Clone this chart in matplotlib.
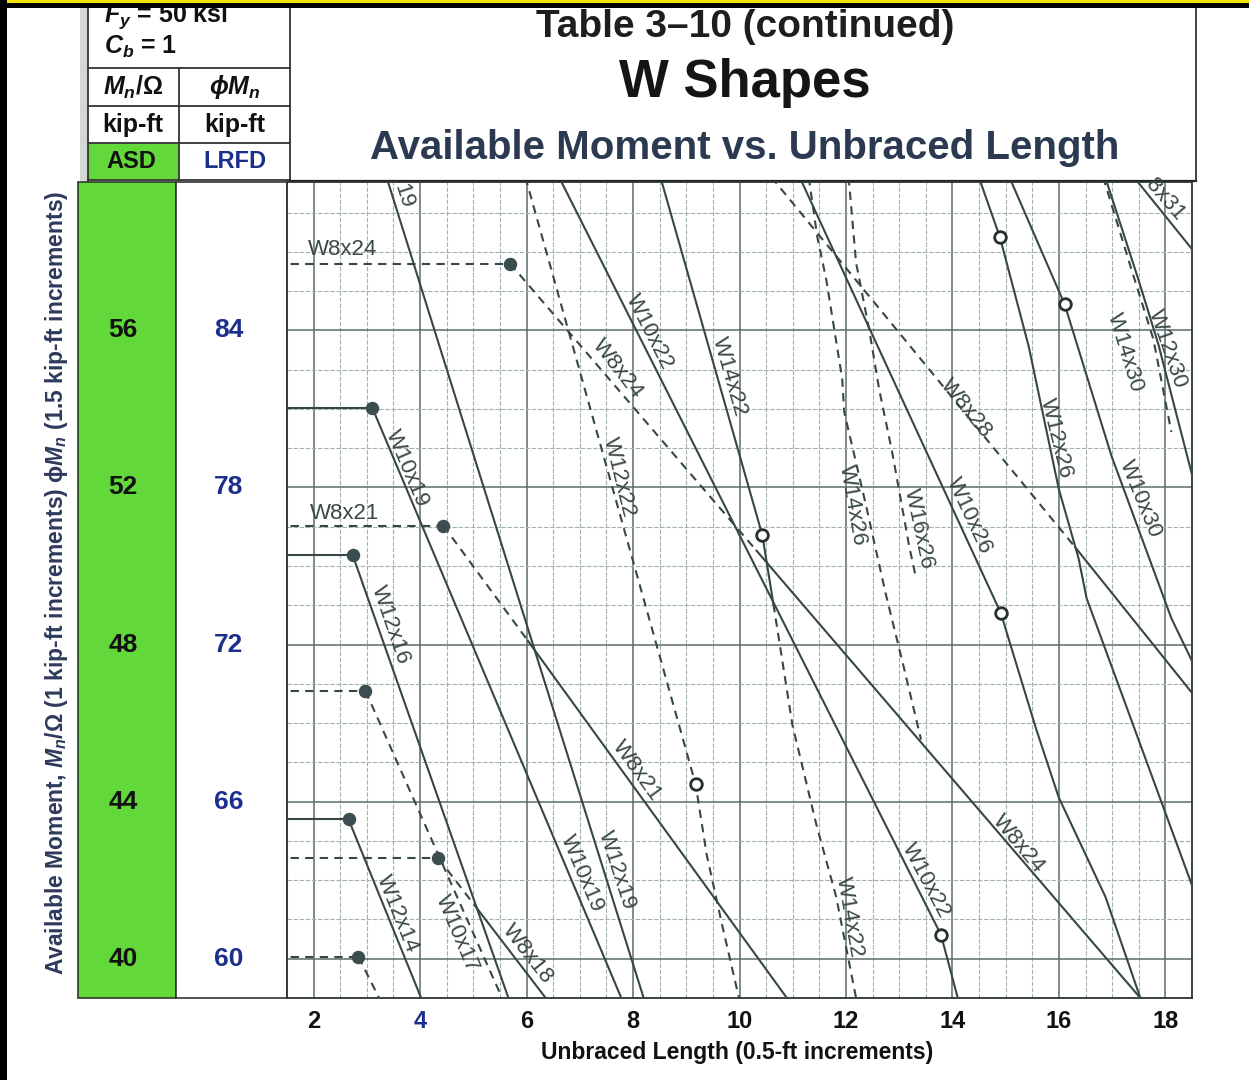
import numpy as np
import matplotlib.pyplot as plt
import matplotlib.transforms as mtransforms
from matplotlib import font_manager
from matplotlib.patches import Rectangle

# fonts
installed = {f.name for f in font_manager.fontManager.ttflist}
COND = 'Liberation Sans Narrow' if 'Liberation Sans Narrow' in installed else 'Liberation Sans'
SANS = 'Liberation Sans'
plt.rcParams['font.family'] = [SANS, 'DejaVu Sans']
plt.rcParams['mathtext.fontset'] = 'custom'
plt.rcParams['mathtext.rm'] = 'Liberation Sans:bold'
plt.rcParams['mathtext.it'] = 'Liberation Sans:italic:bold'
plt.rcParams['mathtext.bf'] = 'Liberation Sans:bold'

# --- data: ASD available moment (kip-ft) vs unbraced length (ft) ---
# plastic plateaus, end at Lp (filled dot)
plateau_M = [57.7, 54.02, 51.03, 50.29, 46.82, 43.55, 42.56, 40.05]
plateau_Lp = [5.69, 3.105, 4.436, 2.731, 2.974, 2.656, 4.342, 2.843]
plateau_dashed = [True, False, True, False, True, False, True, True]

# Lr points (open circles)
circ_x = [10.43, 9.176, 13.785, 14.909, 14.89, 16.108]
circ_y = [50.78, 44.44, 40.61, 48.80, 58.38, 56.66]

# descending branches (solid = lightest, dashed = not lightest)
w12x14_x = [2.656, 4.02];  w12x14_y = [43.55, 39.0]
w10x15_x = [2.843, 3.23];  w10x15_y = [40.05, 39.0]
w10x17_x = [2.974, 5.54];  w10x17_y = [46.82, 39.0]
w12x16_x = [2.731, 5.66];  w12x16_y = [50.29, 39.0]
w8x18a_x = [4.342, 5.07];  w8x18a_y = [42.56, 41.28]
w8x18b_x = [5.07, 6.36];   w8x18b_y = [41.28, 39.0]
w10x19_x = [3.105, 7.78];  w10x19_y = [54.02, 39.0]
w12x19_x = [3.37, 8.20];   w12x19_y = [59.9, 39.0]
w8x21a_x = [4.436, 6.028]; w8x21a_y = [51.03, 48.09]
w8x21b_x = [6.028, 10.89]; w8x21b_y = [48.09, 39.0]
w8x24a_x = [5.69, 10.32];  w8x24a_y = [57.7, 50.39]
w8x24b_x = [10.32, 17.53]; w8x24b_y = [50.39, 39.0]
w10x22_x = [6.61, 13.785, 14.10]; w10x22_y = [59.9, 40.61, 39.0]
w14x22a_x = [8.515, 10.43, 10.637]; w14x22a_y = [59.9, 50.78, 49.03]
w14x22b_x = [10.637, 10.993, 11.443, 11.817, 12.19]
w14x22b_y = [49.03, 45.96, 43.42, 41.57, 39.0]
w12x22_x = [5.978, 9.176, 9.382, 9.682, 9.99]
w12x22_y = [59.9, 44.44, 42.66, 40.81, 39.0]
w14x26_x = [11.30, 11.461, 11.63, 11.93, 11.967, 12.36, 12.754, 13.09, 13.41]
w14x26_y = [59.9, 58.38, 57.29, 54.76, 53.92, 51.64, 49.25, 47.40, 45.58]
w16x26_x = [12.05, 12.19, 12.436, 12.623, 12.866, 13.185, 13.316]
w16x26_y = [59.9, 57.72, 56.02, 54.50, 52.91, 50.52, 49.69]
w10x26_x = [11.13, 14.909, 15.565, 15.996, 16.876, 17.53]
w10x26_y = [59.9, 48.80, 45.88, 44.11, 41.57, 39.0]
w8x28a_x = [10.60, 16.31]; w8x28a_y = [59.9, 50.47]
w8x28b_x = [16.31, 18.6];  w8x28b_y = [50.47, 46.6]
w12x26_x = [14.495, 14.89, 15.433, 15.996, 16.37, 16.52, 18.6]
w12x26_y = [59.9, 58.38, 55.59, 51.97, 50.19, 49.18, 41.5]
w10x30_x = [15.07, 16.108, 16.988, 18.112, 18.6]
w10x30_y = [59.9, 56.66, 52.80, 48.67, 47.3]
w12x30_x = [16.87, 17.494, 17.869, 18.6]
w12x30_y = [59.9, 57.29, 55.64, 51.8]
w14x30_x = [16.83, 17.363, 17.775, 18.112]
w14x30_y = [59.9, 57.55, 55.77, 53.41]
w8x31_x = [17.41, 18.6];   w8x31_y = [59.9, 57.9]

solid_curves = [(w12x14_x, w12x14_y), (w12x16_x, w12x16_y), (w8x18b_x, w8x18b_y),
                (w10x19_x, w10x19_y), (w12x19_x, w12x19_y), (w8x21b_x, w8x21b_y),
                (w8x24b_x, w8x24b_y), (w10x22_x, w10x22_y), (w14x22a_x, w14x22a_y),
                (w10x26_x, w10x26_y), (w8x28b_x, w8x28b_y), (w12x26_x, w12x26_y),
                (w10x30_x, w10x30_y), (w12x30_x, w12x30_y), (w8x31_x, w8x31_y)]
dashed_curves = [(w10x15_x, w10x15_y), (w10x17_x, w10x17_y), (w8x18a_x, w8x18a_y),
                 (w8x21a_x, w8x21a_y), (w8x24a_x, w8x24a_y), (w14x22b_x, w14x22b_y),
                 (w12x22_x, w12x22_y), (w14x26_x, w14x26_y), (w16x26_x, w16x26_y),
                 (w8x28a_x, w8x28a_y), (w14x30_x, w14x30_y)]

# curve labels: text, Lb, M, angle
curve_labels = [
    ("W8x24", 2.544, 58.06, 0), ("W8x21", 2.581, 51.33, 0),
    ("19", 3.686, 59.42, -72), ("W10x19", 3.761, 52.47, -67),
    ("W12x16", 3.443, 48.49, -71), ("W8x24", 7.70, 55.01, -52),
    ("W10x22", 8.314, 55.95, -63), ("W14x22", 9.813, 54.83, -74),
    ("W12x22", 7.733, 52.27, -76), ("W8x28", 14.253, 54.0, -51),
    ("W14x26", 12.117, 51.54, -80), ("W16x26", 13.372, 50.95, -78),
    ("W10x26", 14.31, 51.28, -65), ("W12x26", 15.939, 53.24, -76),
    ("W14x30", 17.24, 55.44, -73), ("W12x30", 18.03, 55.52, -71),
    ("8x31", 18.0, 59.32, -49), ("W10x30", 17.53, 51.71, -68),
    ("W8x21", 8.07, 44.79, -54), ("W12x19", 7.696, 42.26, -72),
    ("W10x19", 7.04, 42.16, -67), ("W8x18", 6.028, 40.13, -52),
    ("W10x17", 4.698, 40.63, -67), ("W12x14", 3.574, 41.14, -68),
    ("W10x22", 13.5, 42.0, -62), ("W8x24", 15.246, 42.92, -50),
    ("W14x22", 12.061, 41.06, -80),
]

x_ticks = list(range(2, 19, 2))
asd_ticks = [40, 44, 48, 52, 56]
lrfd_ticks = [int(v * 1.5) for v in asd_ticks]

LINE = '#374646'
GREEN = '#63d83a'
NAVY = '#1b2f8c'

fig = plt.figure(figsize=(12.49, 10.80), dpi=100)
bg = fig.add_axes([0, 0, 1, 1], zorder=0)
bg.set_xlim(0, 1249)
bg.set_ylim(1080, 0)
bg.axis('off')

ax = fig.add_axes([287 / 1249, 1 - 998 / 1080, 905 / 1249, 816 / 1080], zorder=1)
ax.set_xlim(1.513, 18.468)
ax.set_ylim(39.087, 59.777)

# grid
ax.set_xticks(x_ticks)
ax.set_xticks(np.arange(1.5, 18.51, 0.5), minor=True)
ax.set_yticks(asd_ticks)
ax.set_yticks(np.arange(39, 60, 1), minor=True)
ax.grid(which='major', color='#5d6b6b', lw=1.1)
ax.grid(which='minor', color='#a3b0b0', lw=0.8, ls=(0, (4, 1.5)))
ax.set_axisbelow(True)
ax.tick_params(which='both', length=0)
ax.tick_params(axis='x', pad=9)
ax.set_yticklabels([])
ax.set_xticklabels([str(v) for v in x_ticks], fontfamily=COND, fontweight='bold', fontsize=17)
for t in ax.get_xticklabels():
    t.set_color(NAVY if t.get_text() == '4' else '#111111')
for s in ax.spines.values():
    s.set_color('#2b3333')
    s.set_linewidth(1.3)

# plateaus
for M, Lp, d in zip(plateau_M, plateau_Lp, plateau_dashed):
    ax.plot([1.3, Lp], [M, M], color=LINE, lw=1.5,
            ls=(0, (4, 3)) if d else '-', zorder=3)
for x, y in solid_curves:
    ax.plot(x, y, color=LINE, lw=1.5, zorder=3)
for x, y in dashed_curves:
    ax.plot(x, y, color=LINE, lw=1.5, ls=(0, (4, 3)), zorder=3)

ax.scatter(plateau_Lp, plateau_M, s=75, color='#3c4d50', zorder=5)
ax.scatter(circ_x, circ_y, s=70, facecolor='white', edgecolor='#263030',
           linewidths=2, zorder=5)

for txt, x, y, r in curve_labels:
    ax.text(x, y, txt, rotation=r, rotation_mode='anchor', ha='center', va='center',
            fontsize=16, color='#3a4848', family=SANS, zorder=4)

# left value columns
bg.add_patch(Rectangle((78, 182), 98, 816, fc=GREEN, ec='#2a3a2a', lw=1.2))
bg.add_patch(Rectangle((176, 182), 111, 816, fc='white', ec='#333333', lw=1.2))
mix = mtransforms.blended_transform_factory(bg.transData, ax.transData)
for a, l in zip(asd_ticks, lrfd_ticks):
    bg.text(123, a, str(a), transform=mix, ha='center', va='center',
            fontfamily=COND, fontweight='bold', fontsize=19, color='#111111')
    bg.text(229, a, str(l), transform=mix, ha='center', va='center',
            fontfamily=COND, fontweight='bold', fontsize=19, color=NAVY)

# header table
bg.add_patch(Rectangle((80, 0), 8, 181, fc='#d3d8d4', ec='none'))
bg.add_patch(Rectangle((88, 143), 91, 37, fc=GREEN, ec='none'))
for yy in [68, 106, 143, 180]:
    bg.plot([88, 290], [yy, yy], color='#333333', lw=1.3)
bg.plot([88, 88], [0, 181], color='#333333', lw=1.3)
bg.plot([290, 290], [0, 182], color='#333333', lw=1.3)
bg.plot([179, 179], [68, 180], color='#333333', lw=1.3)
bg.plot([290, 1196], [181, 181], color='#222222', lw=1.6)
bg.plot([1196, 1196], [0, 181], color='#333333', lw=1.3)

hdr = dict(fontfamily=COND, fontweight='bold', fontsize=18, va='center', color='#111111')
bg.text(104, 16, r'$F_y$ = 50 ksi', ha='left', **hdr)
bg.text(104, 47, r'$C_b$ = 1', ha='left', **hdr)
bg.text(133, 87, r'$M_n/\Omega$', ha='center', **hdr)
bg.text(235, 87, r'$\phi M_n$', ha='center', **hdr)
bg.text(133, 125, 'kip-ft', ha='center', **hdr)
bg.text(235, 125, 'kip-ft', ha='center', **hdr)
bg.text(131, 161, 'ASD', ha='center', **dict(hdr, fontsize=17))
bg.text(235, 161, 'LRFD', ha='center', **dict(hdr, fontsize=17, color=NAVY))

# titles
bg.text(745, 27, 'Table 3\u201310 (continued)', ha='center', va='center',
        fontsize=28, fontweight='bold', color='#1e1e1e')
bg.text(745, 83, 'W Shapes', ha='center', va='center',
        fontsize=38, fontweight='bold', color='#151515')
bg.text(745, 148, 'Available Moment vs. Unbraced Length', ha='center', va='center',
        fontsize=29, fontweight='bold', color='#2b3a50')

# axis titles
bg.text(737, 1052, 'Unbraced Length (0.5-ft increments)', ha='center', va='center',
        fontfamily=COND, fontweight='bold', fontsize=16.5, color='#111111')
ylab = ('Available Moment, $M_n$/\u03a9 (1 kip-ft increments) '
        '\u03d5$M_n$ (1.5 kip-ft increments)')
bg.text(57, 583, ylab, rotation=90, ha='center', va='center',
        fontsize=16.5, fontweight='bold', color='#2d3a5c')

# scan border
ov = fig.add_axes([0, 0, 1, 1], zorder=20)
ov.set_xlim(0, 1249)
ov.set_ylim(1080, 0)
ov.axis('off')
ov.patch.set_alpha(0)
ov.add_patch(Rectangle((0, 0), 1249, 8, fc='black', ec='none'))
ov.add_patch(Rectangle((0, 0), 1249, 2.5, fc='#f0e400', ec='none'))
ov.add_patch(Rectangle((0, 0), 7, 1080, fc='black', ec='none'))

fig.savefig('out.png', dpi=100)
